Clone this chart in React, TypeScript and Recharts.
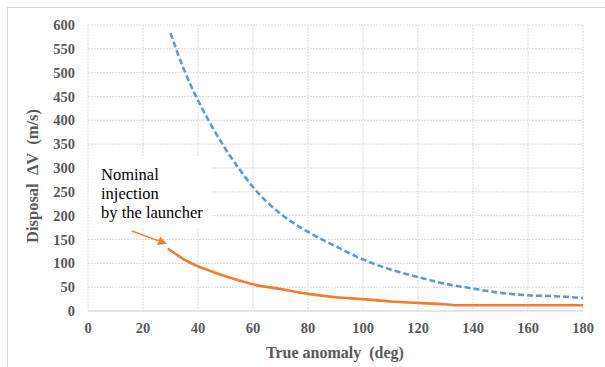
import { LineChart, Line, XAxis, YAxis, CartesianGrid } from "recharts"

// true anomaly (deg) and disposal delta-V (m/s)
const blueAnomaly = [30, 35, 40, 45, 50, 55, 60, 70, 80, 90, 100, 110, 120, 130, 140, 150, 160, 170, 180]
const blueDv = [583, 505, 442, 388, 340, 298, 260, 204, 166, 136, 108, 87, 71, 57, 47, 38, 33, 31, 27]

const orangeAnomaly = [29, 30, 35, 40, 45, 50, 55, 60, 70, 80, 90, 100, 110, 120, 130, 135, 140, 150, 160, 170, 180]
const orangeDv = [131, 127, 108, 94, 83, 73, 64, 56, 46, 36, 29, 25, 20, 17, 14, 12, 12, 12, 12, 12, 12]

const xTicks = [0, 20, 40, 60, 80, 100, 120, 140, 160, 180]
const yTicks = [0, 50, 100, 150, 200, 250, 300, 350, 400, 450, 500, 550, 600]

const noteLines = ["Nominal", "injection", "by the launcher"]

const blueData = blueAnomaly.map((x, i) => ({ x, dv: blueDv[i] }))
const orangeData = orangeAnomaly.map((x, i) => ({ x, dv: orangeDv[i] }))

const serif = "Liberation Serif"
const tickStyle = { fill: "#595959", fontSize: 14.5, fontWeight: 700, fontFamily: serif }

export default function App() {
  return (
    <div style={{ position: "relative", width: 605, height: 367, background: "#fff", overflow: "hidden", fontFamily: serif }}>
      <style>{"body{margin:0}"}</style>
      <div
        style={{
          position: "absolute",
          left: 7,
          top: 7,
          width: 620,
          height: 380,
          borderTop: "1px solid #d9d9d9",
          borderLeft: "1px solid #d9d9d9",
        }}
      />
      <LineChart width={605} height={367} margin={{ top: 25, right: 22, left: 0, bottom: 0 }}>
        <CartesianGrid stroke="#d9d9d9" strokeDasharray="2 1" />
        <XAxis
          type="number"
          dataKey="x"
          domain={[0, 180]}
          ticks={xTicks}
          height={56}
          tick={tickStyle}
          tickLine={false}
          tickMargin={6}
          axisLine={{ stroke: "#d9d9d9" }}
          allowDuplicatedCategory={false}
        />
        <YAxis
          type="number"
          domain={[0, 600]}
          ticks={yTicks}
          width={88}
          tick={tickStyle}
          tickLine={false}
          tickMargin={7}
          axisLine={false}
        />
        <Line
          data={blueData}
          dataKey="dv"
          type="monotone"
          stroke="#5b9bd5"
          strokeWidth={2.6}
          strokeDasharray="6 3"
          dot={false}
          isAnimationActive={false}
        />
        <Line
          data={orangeData}
          dataKey="dv"
          type="monotone"
          stroke="#ed7d31"
          strokeWidth={2.6}
          dot={false}
          isAnimationActive={false}
        />
      </LineChart>
      <svg
        width={605}
        height={367}
        style={{ position: "absolute", left: 0, top: 0, pointerEvents: "none", fontFamily: serif }}
      >
        <rect x={89} y={157} width={123} height={71} fill="#fff" />
        {noteLines.map((t, i) => (
          <text key={t} x={101} y={180 + i * 19} fontSize={16.5} fill="#000">
            {t}
          </text>
        ))}
        <line x1={132} y1={231} x2={158.6} y2={240.9} stroke="#ed7d31" strokeWidth={1.5} />
        <polygon points="167,244 157,245.1 160.2,236.7" fill="#ed7d31" />
        <text
          x={335}
          y={358}
          textAnchor="middle"
          fontSize={16}
          fontWeight={700}
          fill="#595959"
          style={{ whiteSpace: "pre" }}
        >
          {"True anomaly  (deg)"}
        </text>
        <text
          transform="translate(38,176) rotate(-90)"
          textAnchor="middle"
          fontSize={16.5}
          fontWeight={700}
          fill="#595959"
          style={{ whiteSpace: "pre" }}
        >
          {"Disposal  ΔV  (m/s)"}
        </text>
      </svg>
    </div>
  )
}
